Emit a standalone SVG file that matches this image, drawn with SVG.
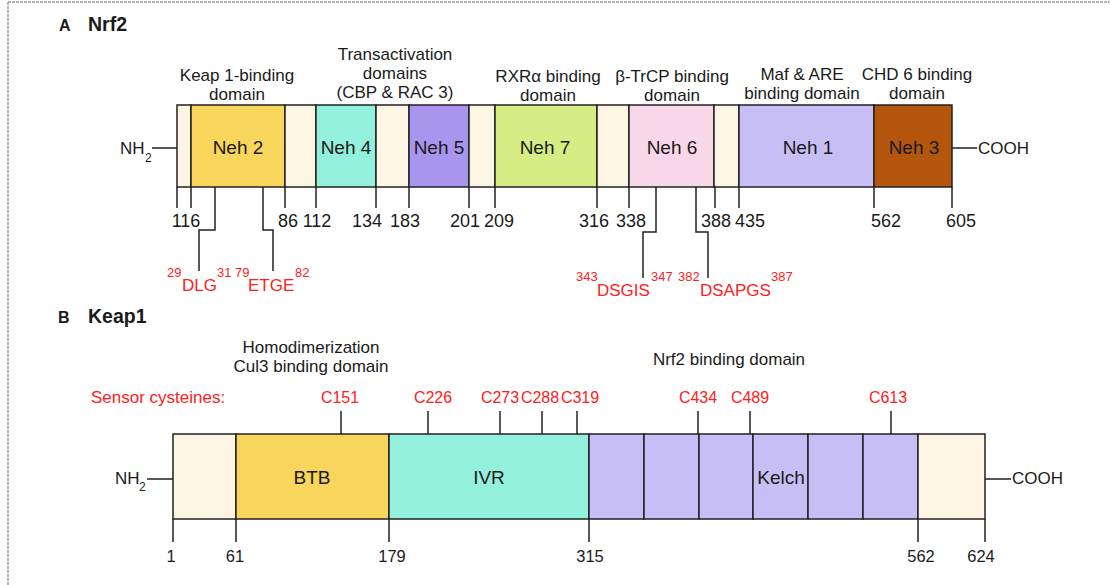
<svg xmlns="http://www.w3.org/2000/svg" width="1110" height="585" viewBox="0 0 1110 585">
<style>
text{font-family:"Liberation Sans",Arial,sans-serif;fill:#1a1a1a}
.t{font-size:17px;text-anchor:middle}
.c{font-size:16px;text-anchor:middle;fill:#ff2020}
.n{font-size:18px;text-anchor:middle}
.nk{font-size:16.5px;text-anchor:middle}
.d{font-size:19px;text-anchor:middle}
.rm{font-size:17px;fill:#ff2020}
.rs{font-size:13px;fill:#ff2020}
.h{font-weight:bold}
.seg{stroke:#222;stroke-width:1.5}
.ln{stroke:#222;stroke-width:1.5;fill:none}
.sp{fill:#fcf5e3}
</style>
<rect width="1110" height="585" fill="#fff"/>
<g id="frame"><line x1="8" y1="2" x2="1110" y2="2" stroke="#999" stroke-width="1.5" stroke-dasharray="3 1"/><line x1="8" y1="2" x2="8" y2="585" stroke="#999" stroke-width="1.5" stroke-dasharray="3 1"/></g>

<g id="titleA"><text x="59" y="31" class="h" style="font-size:16px">A</text><text x="88" y="31" class="h" style="font-size:19.5px">Nrf2</text></g>

<g id="nrf2-labels">
<text class="t" x="237" y="81">Keap 1-binding</text><text class="t" x="237" y="100">domain</text>
<text class="t" x="395" y="60">Transactivation</text><text class="t" x="395" y="79">domains</text><text class="t" x="395" y="98">(CBP &amp; RAC 3)</text>
<text class="t" x="548" y="82">RXRα binding</text><text class="t" x="548" y="101">domain</text>
<text class="t" x="672" y="82">β-TrCP binding</text><text class="t" x="672" y="101">domain</text>
<text class="t" x="802" y="80">Maf &amp; ARE</text><text class="t" x="802" y="99">binding domain</text>
<text class="t" x="917" y="80">CHD 6 binding</text><text class="t" x="917" y="99">domain</text>
</g>

<g id="nrf2-bar">
<rect class="seg sp" x="177" y="105" width="14" height="82"/>
<rect class="seg" x="191" y="105" width="94" height="82" fill="#f8d65c"/>
<rect class="seg sp" x="285" y="105" width="31" height="82"/>
<rect class="seg" x="316" y="105" width="60" height="82" fill="#92f0dc"/>
<rect class="seg sp" x="376" y="105" width="33" height="82"/>
<rect class="seg" x="409" y="105" width="60" height="82" fill="#a896ee"/>
<rect class="seg sp" x="469" y="105" width="26" height="82"/>
<rect class="seg" x="495" y="105" width="102" height="82" fill="#d6ec84"/>
<rect class="seg sp" x="597" y="105" width="32" height="82"/>
<rect class="seg" x="629" y="105" width="85" height="82" fill="#f8d8e8"/>
<rect class="seg sp" x="714" y="105" width="25" height="82"/>
<rect class="seg" x="739" y="105" width="135" height="82" fill="#c8bef6"/>
<rect class="seg" x="874" y="105" width="78" height="82" fill="#b5560f"/>
<text class="d" x="238" y="154">Neh 2</text>
<text class="d" x="346" y="154">Neh 4</text>
<text class="d" x="439" y="154">Neh 5</text>
<text class="d" x="545" y="154">Neh 7</text>
<text class="d" x="672" y="154">Neh 6</text>
<text class="d" x="808" y="154">Neh 1</text>
<text class="d" x="914" y="154">Neh 3</text>
</g>

<g id="nrf2-termini">
<text x="120" y="154" style="font-size:17px">NH</text><text x="145" y="162" style="font-size:12px">2</text>
<text x="978" y="154" style="font-size:17px">COOH</text>
</g>

<g id="nrf2-numbers">
<text class="n" x="186" y="227">116</text>
<text class="n" x="288" y="227">86</text>
<text class="n" x="317" y="227">112</text>
<text class="n" x="367" y="227">134</text>
<text class="n" x="405" y="227">183</text>
<text class="n" x="465" y="227">201</text>
<text class="n" x="499" y="227">209</text>
<text class="n" x="594" y="227">316</text>
<text class="n" x="631" y="227">338</text>
<text class="n" x="716" y="227">388</text>
<text class="n" x="750" y="227">435</text>
<text class="n" x="886" y="227">562</text>
<text class="n" x="961" y="227">605</text>
</g>

<g id="nrf2-motifs">
<text class="rs" x="167" y="277">29</text><text class="rm" x="182" y="291">DLG</text><text class="rs" x="217" y="277">31</text>
<text class="rs" x="235" y="277">79</text><text class="rm" x="248" y="291">ETGE</text><text class="rs" x="295" y="277">82</text>
<text class="rs" x="576" y="281">343</text><text class="rm" x="597" y="296">DSGIS</text><text class="rs" x="651" y="281">347</text>
<text class="rs" x="678" y="281">382</text><text class="rm" x="700" y="296">DSAPGS</text><text class="rs" x="771" y="281">387</text>
</g>

<g id="titleB"><text x="58" y="323" class="h" style="font-size:16px">B</text><text x="88" y="323" class="h" style="font-size:19.5px">Keap1</text></g>

<g id="keap1-labels">
<text class="t" x="311" y="353">Homodimerization</text><text class="t" x="311" y="372">Cul3 binding domain</text>
<text class="t" x="729" y="365">Nrf2 binding domain</text>
<text class="rm" x="91" y="403">Sensor cysteines:</text>
<text class="c" x="340" y="403">C151</text>
<text class="c" x="433" y="403">C226</text>
<text class="c" x="500" y="403">C273</text>
<text class="c" x="540" y="403">C288</text>
<text class="c" x="580" y="403">C319</text>
<text class="c" x="698" y="403">C434</text>
<text class="c" x="750" y="403">C489</text>
<text class="c" x="888" y="403">C613</text>
</g>

<g id="keap1-bar">
<rect class="seg sp" x="173" y="434" width="63" height="85"/>
<rect class="seg" x="236" y="434" width="153" height="85" fill="#f8d65c"/>
<rect class="seg" x="389" y="434" width="200" height="85" fill="#92f0dc"/>
<rect class="seg" x="589" y="434" width="55" height="85" fill="#c8bef6"/>
<rect class="seg" x="644" y="434" width="55" height="85" fill="#c8bef6"/>
<rect class="seg" x="699" y="434" width="54" height="85" fill="#c8bef6"/>
<rect class="seg" x="753" y="434" width="55" height="85" fill="#c8bef6"/>
<rect class="seg" x="808" y="434" width="55" height="85" fill="#c8bef6"/>
<rect class="seg" x="863" y="434" width="55" height="85" fill="#c8bef6"/>
<rect class="seg sp" x="918" y="434" width="67" height="85"/>
<text class="d" x="312" y="484">BTB</text>
<text class="d" x="489" y="484">IVR</text>
<text class="d" x="781" y="484">Kelch</text>
</g>

<g id="keap1-termini">
<text x="115" y="484" style="font-size:17px">NH</text><text x="139" y="491" style="font-size:12px">2</text>
<text x="1012" y="484" style="font-size:17px">COOH</text>
</g>

<g id="keap1-numbers">
<text class="nk" x="171" y="562">1</text>
<text class="nk" x="235" y="562">61</text>
<text class="nk" x="392" y="562">179</text>
<text class="nk" x="590" y="562">315</text>
<text class="nk" x="921" y="562">562</text>
<text class="nk" x="981" y="562">624</text>
</g>

<g id="connectors" class="ln">
<path d="M152 148H177M952 148H977"/>
<path d="M177 187V208M191 187V208M285 187V208M316 187V208M376 187V208M409 187V208M469 187V208M495 187V208M597 187V208M629 187V208M715 187V208M739 187V208M874 187V208M952 187V208"/>
<path d="M215 187V230H199V271M263 187V230H273V271M656 187V232H643V278M696 187V232H708V278"/>
<path d="M147 479H173M985 479H1011"/>
<path d="M341 411V434M428 411V434M500 411V434M542 411V434M577 411V434M698 411V434M750 411V434M891 411V434"/>
<path d="M173 519V542M236 519V542M389 519V542M589 519V542M918 519V542M985 519V542"/>
</g>
</svg>
